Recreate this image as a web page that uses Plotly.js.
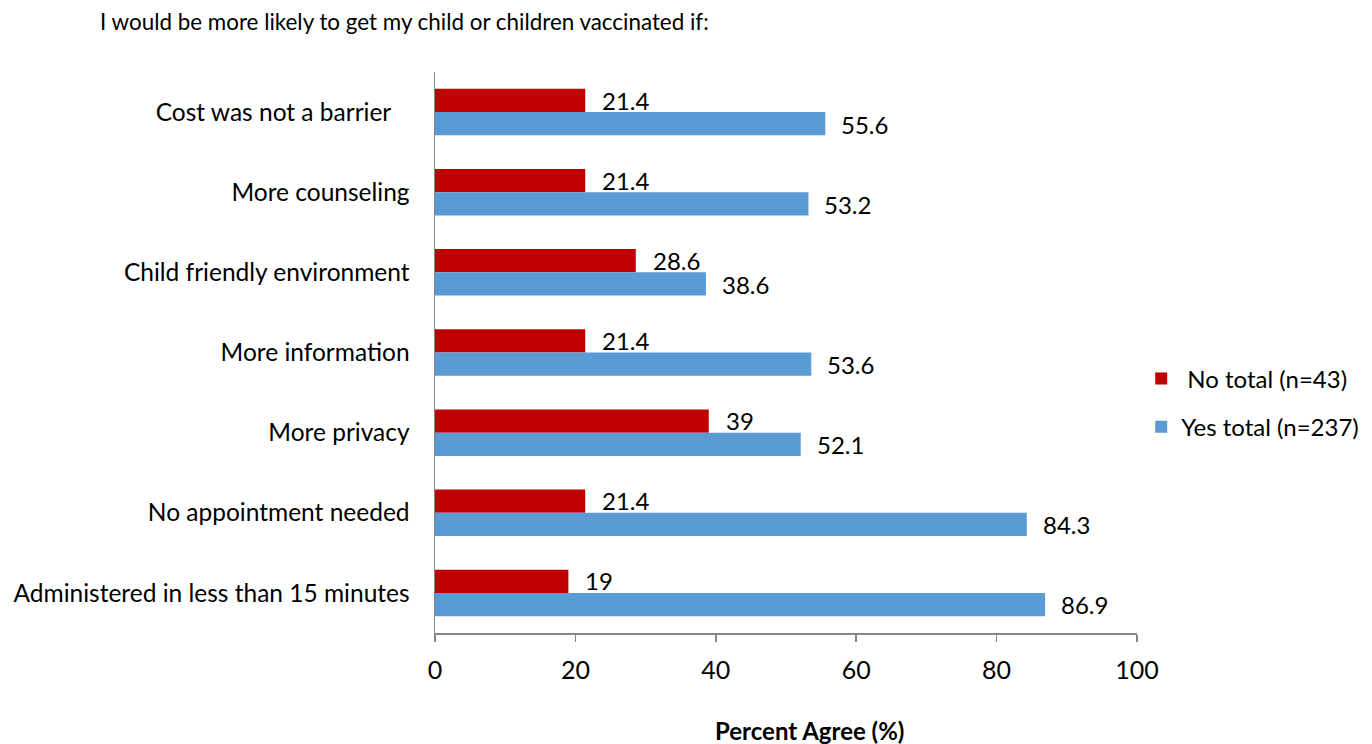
<!DOCTYPE html>
<html>
<head>
<meta charset="utf-8">
<script src="https://cdn.plot.ly/plotly-3.0.1.min.js"></script>
<style>html,body{margin:0;padding:0;background:#fff;}#chart{width:1372px;height:744px;}</style>
</head>
<body>
<div id="chart"></div>
<script>
const categories = [
  "Cost was not a barrier\u00a0\u00a0\u00a0",
  "More counseling",
  "Child friendly environment",
  "More information",
  "More privacy",
  "No appointment needed",
  "Administered in less than 15 minutes"
];
const noTotal = [21.4, 21.4, 28.6, 21.4, 39, 21.4, 19];
const yesTotal = [55.6, 53.2, 38.6, 53.6, 52.1, 84.3, 86.9];
const seriesNames = ["\u00a0No total (n=43)", "Yes total (n=237)"];
const xTicks = [0, 20, 40, 60, 80, 100];
const chartTitle = "I would be more likely to get my child or children vaccinated if:";
const xTitle = "<b>Percent Agree (%)</b>";

const FONT = "Lato, 'Open Sans', sans-serif";
const RED = "#C00000", BLUE = "#5B9BD5";

const traces = [
  {type:'bar', orientation:'h', name:seriesNames[0], y:categories, x:noTotal,
   marker:{color:RED}, legendgroup:'a', hoverinfo:'x'},
  {type:'bar', orientation:'h', name:seriesNames[1], y:categories, x:yesTotal,
   marker:{color:BLUE}, legendgroup:'b', hoverinfo:'x'}
];

const annotations = [];
categories.forEach((c,i)=>{
  annotations.push({x:noTotal[i], y:c, xref:'x', yref:'y', text:String(noTotal[i]),
    showarrow:false, xanchor:'left', yanchor:'middle', xshift:15, yshift:12,
    font:{family:FONT, size:24, color:'#000'}});
  annotations.push({x:yesTotal[i], y:c, xref:'x', yref:'y', text:String(yesTotal[i]),
    showarrow:false, xanchor:'left', yanchor:'middle', xshift:14, yshift:-12,
    font:{family:FONT, size:24, color:'#000'}});
});
annotations.push({text:xTitle, xref:'paper', yref:'paper', x:(809-435)/702, y:-(730-633)/561,
  xanchor:'center', yanchor:'middle', showarrow:false, font:{family:FONT, size:24, color:'#000'}});

const layout = {
  width:1372, height:744,
  margin:{l:435, r:235, t:72, b:111, pad:0, autoexpand:false},
  paper_bgcolor:'#fff', plot_bgcolor:'#fff',
  font:{family:FONT, size:24, color:'#000'},
  title:{text:chartTitle, xref:'container', yref:'container', x:100/1372, xanchor:'left',
         y:1-22/744, yanchor:'middle', font:{family:FONT, size:22.4, color:'#000'}},
  barmode:'group', bargap:0.42, bargroupgap:0,
  xaxis:{range:[0,100], tickvals:xTicks, ticktext:xTicks.map(String), showgrid:false, zeroline:false,
         showline:true, linecolor:'#868686', linewidth:1.5, ticks:'outside', ticklen:7, tickcolor:'#868686',
         tickwidth:1.5, ticklabelstandoff:7, tickfont:{family:FONT, size:25, color:'#000'}},
  yaxis:{type:'category', autorange:'reversed', showgrid:false, zeroline:false,
         showline:true, linecolor:'#868686', linewidth:1.5, ticks:'', ticklabelstandoff:19,
         tickfont:{family:FONT, size:24.5, color:'#000'}},
  showlegend:true,
  legend:{x:1.006, xanchor:'left', y:0.41, yanchor:'middle', traceorder:'grouped', tracegroupgap:14,
          font:{family:FONT, size:24, color:'#000'}, bgcolor:'rgba(0,0,0,0)'},
  annotations:annotations
};

Plotly.newPlot('chart', traces, layout, {displayModeBar:false, staticPlot:true});
</script>
</body>
</html>
